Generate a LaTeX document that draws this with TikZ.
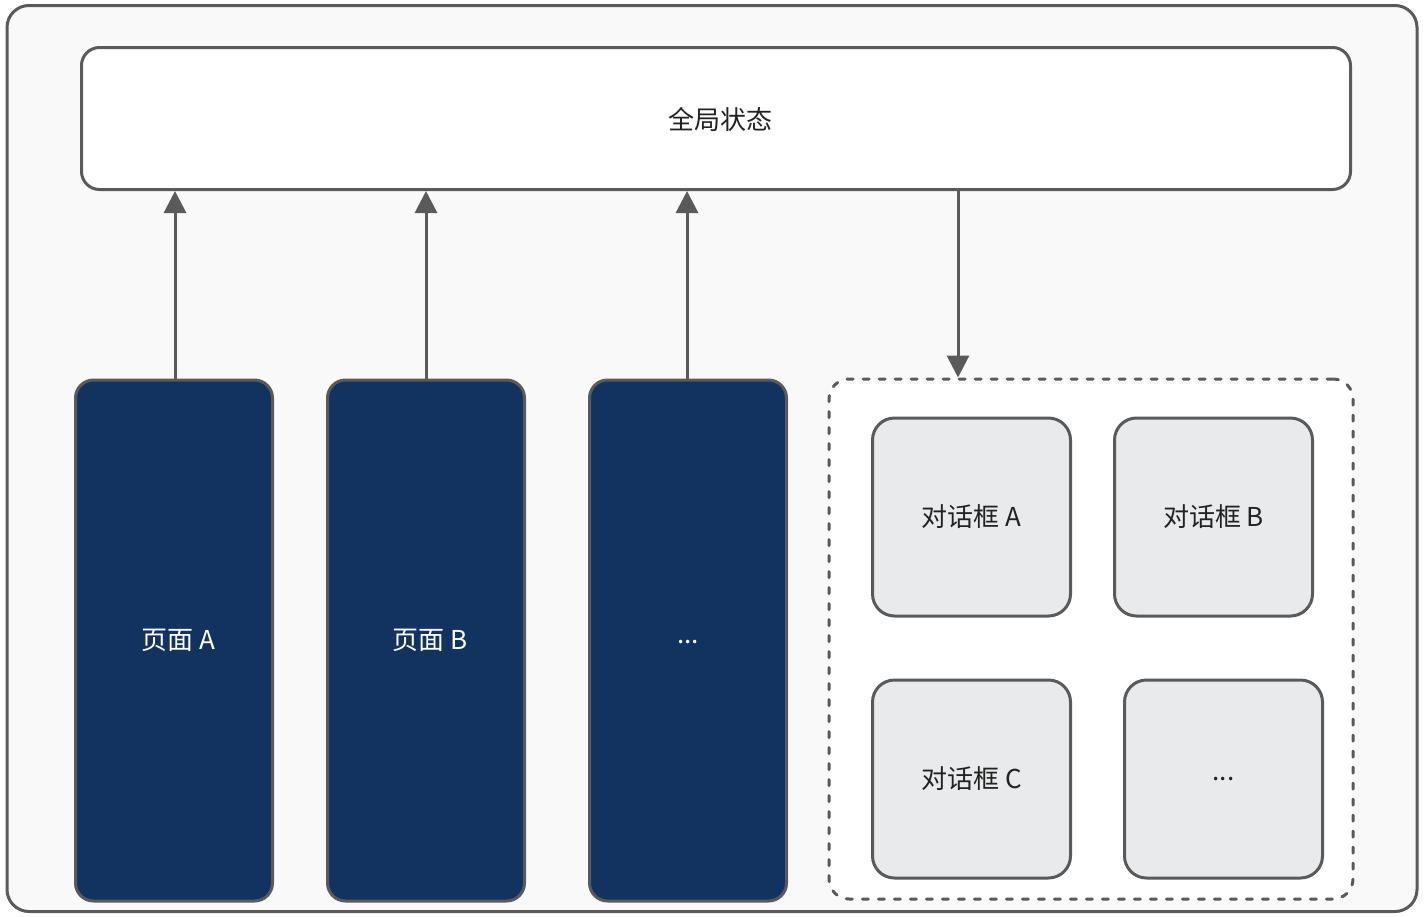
\documentclass[tikz,border=0pt]{standalone}
\usepackage{fontspec}
\setmainfont{Noto Sans CJK SC}
\usetikzlibrary{arrows.meta}
\definecolor{edge}{HTML}{5A5A5A}
\definecolor{bgfill}{HTML}{F9F9F9}
\definecolor{navy}{HTML}{12325F}
\definecolor{dlgfill}{HTML}{E9EAEC}
\definecolor{txt}{HTML}{222222}
\tikzset{
  lbl/.style={font=\fontsize{26}{30}\selectfont},
  box/.style={draw=edge, line width=3pt, rounded corners=18pt, inner sep=0pt, lbl},
  pagebox/.style={box, fill=navy, text=white, minimum width=197pt, minimum height=521pt},
  dlgbox/.style={box, fill=dlgfill, text=txt, rounded corners=22pt, minimum width=198pt, minimum height=198pt},
  conn/.style={draw=edge, line width=3pt, -{Triangle[width=22pt,length=22pt]}}
}
\begin{document}
\begin{tikzpicture}[x=1pt,y=-1pt]
\useasboundingbox (0,0) rectangle (1424,916);
\node[draw=edge, line width=3pt, fill=bgfill, rounded corners=22pt, minimum width=1410pt, minimum height=906pt, inner sep=0pt] (frame) at (712,458.5) {};
\node[box, fill=white, text=txt, minimum width=1269pt, minimum height=142pt] (g) at (716,118.5) {};
\node[text=txt, lbl] (gt) at (720,119) {全局状态};
\node[pagebox] (pa) at (174,640.5) {};
\node[text=white, lbl] (pat) at (178,640) {页面 A};
\node[pagebox] (pb) at (426,640.5) {};
\node[text=white, lbl] (pbt) at (430,640) {页面 B};
\node[pagebox] (pc) at (688,640.5) {};
\node[text=white, lbl] (pct) at (688,642) {...};
\node[draw=edge, line width=3pt, dash pattern=on 6pt off 10pt, line cap=round, fill=white, rounded corners=20pt, minimum width=524pt, minimum height=520pt, inner sep=0pt] (dl) at (1091,639) {};
\node[dlgbox] (da) at (971.5,517) {对话框 A};
\node[dlgbox] (db) at (1213.5,517) {对话框 B};
\node[dlgbox] (dc) at (971.5,779) {对话框 C};
\node[dlgbox] (dd) at (1223.5,779) {...};
\coordinate (ax) at (175,0);
\coordinate (bx) at (426,0);
\coordinate (cx) at (687,0);
\coordinate (dx) at (958,0);
\draw[conn] (pa.north -| ax) -- (g.south -| ax);
\draw[conn] (pb.north -| bx) -- (g.south -| bx);
\draw[conn] (pc.north -| cx) -- (g.south -| cx);
\draw[conn] (g.south -| dx) -- (dl.north -| dx);
\end{tikzpicture}
\end{document}
